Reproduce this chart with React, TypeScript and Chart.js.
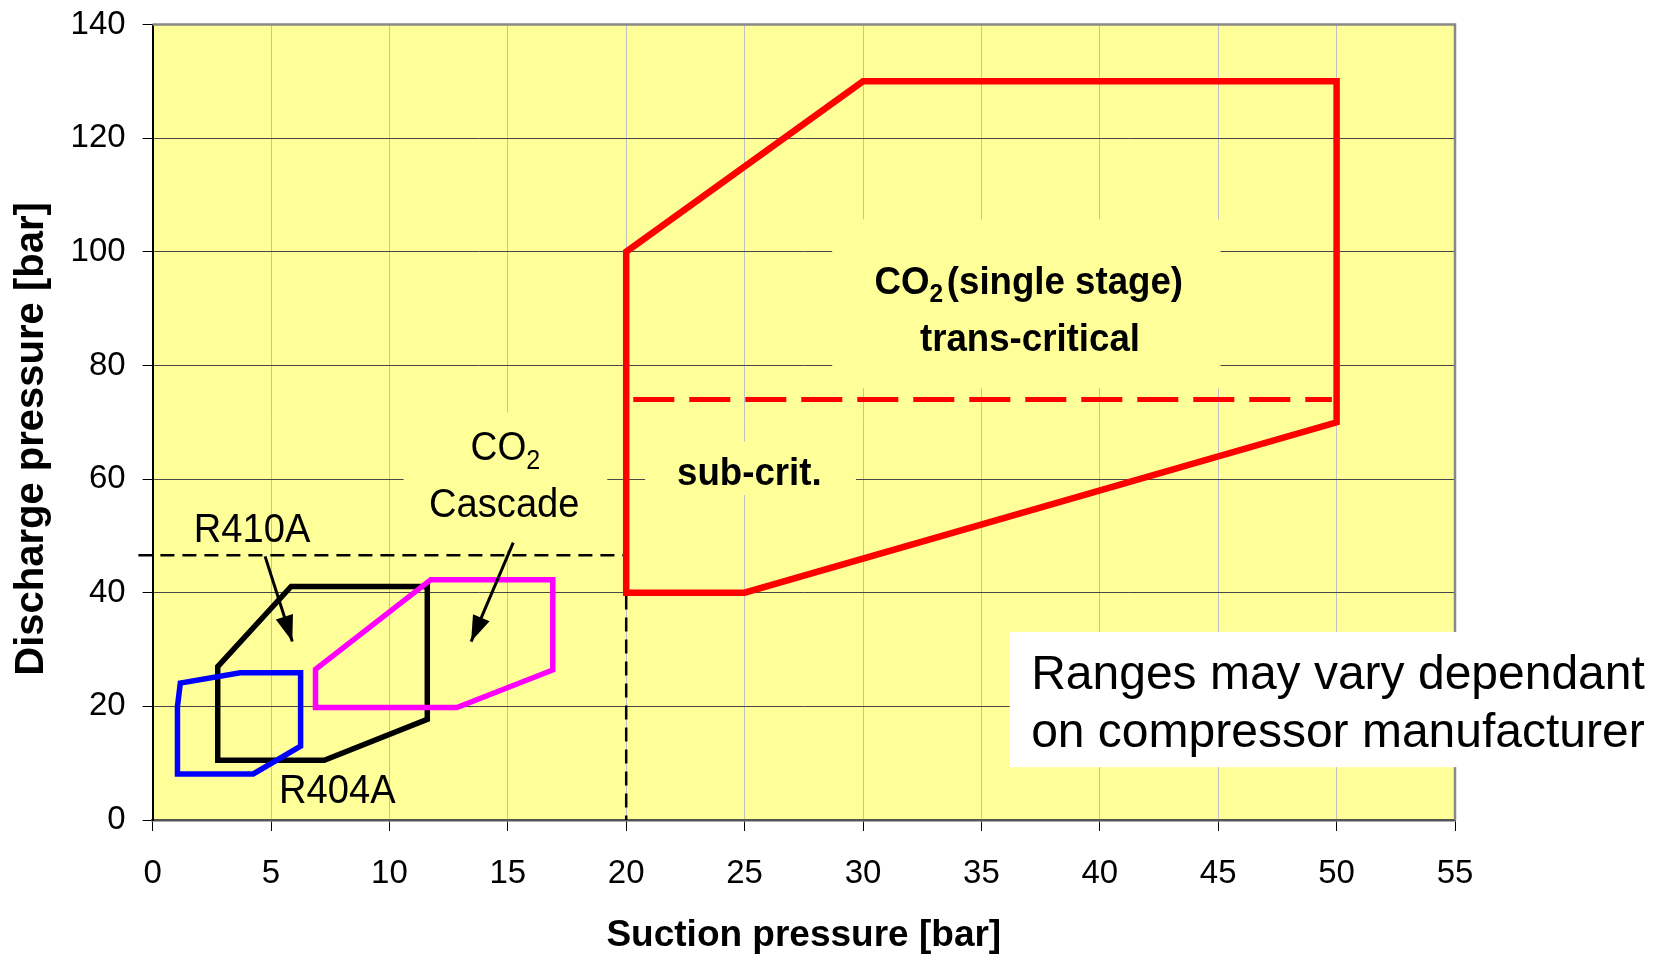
import React, { useEffect, useRef } from "react";
import { Chart, registerables } from "chart.js";

Chart.register(...registerables);

// ---------- data ----------
const X_TICKS = [0, 5, 10, 15, 20, 25, 30, 35, 40, 45, 50, 55];
const Y_TICKS = [0, 20, 40, 60, 80, 100, 120, 140];
const X_TITLE = "Suction pressure [bar]";
const Y_TITLE = "Discharge pressure [bar]   ";

// CO2 single stage envelope (sub + trans-critical)
const CO2_SINGLE_X = [20, 20, 30, 50, 50, 25, 20];
const CO2_SINGLE_Y = [40, 100, 130, 130, 70, 40, 40];
// sub/trans-critical boundary
const CRIT_LINE_X = [20.3, 49.8];
const CRIT_LINE_Y = [74, 74];
// R410A envelope
const R410A_X = [11.6, 11.6, 7.25, 2.75, 2.75, 5.85, 11.6];
const R410A_Y = [41.1, 17.7, 10.5, 10.5, 27.0, 41.1, 41.1];
// R404A envelope
const R404A_X = [6.25, 6.25, 4.25, 1.05, 1.05, 1.17, 3.7, 6.25];
const R404A_Y = [25.9, 13.0, 8.1, 8.1, 20.0, 24.1, 25.9, 25.9];
// CO2 cascade envelope
const CASCADE_X = [16.9, 16.9, 12.85, 6.88, 6.88, 11.75, 16.9];
const CASCADE_Y = [42.3, 26.4, 19.8, 19.8, 26.5, 42.3, 42.3];
// dashed guide lines
const GUIDE_X = [-0.6, 20, 20];
const GUIDE_Y = [46.6, 46.6, 0];
// arrows
const ARROW_R410A_X = [4.75, 5.9];
const ARROW_R410A_Y = [46.4, 31.4];
const ARROW_CASCADE_X = [15.23, 13.45];
const ARROW_CASCADE_Y = [48.8, 31.4];

const NOTE_LINES = ["Ranges may vary dependant", "on compressor manufacturer"];

// ---------- styling / placement ----------
const FONT = "'Liberation Sans', Arial, Helvetica, sans-serif";
const PLOT_BG = "#FFFF99";

const zip = (xs: number[], ys: number[]) => xs.map((x, i) => ({ x, y: ys[i] }));

// yellow masks that interrupt the grid behind text labels (data coords)
const MASKS = [
  { x0: 10.6, x1: 19.2, y0: 47.5, y1: 71.7 },
  { x0: 28.7, x1: 45.1, y0: 76, y1: 105.7 },
  { x0: 20.8, x1: 29.7, y0: 57.2, y1: 66.6 },
];

type Part = { t: string; size: number; bold?: boolean; dy?: number; gap?: number };

function drawRich(ctx: CanvasRenderingContext2D, parts: Part[], cx: number, by: number, sx = 1) {
  let total = 0;
  const widths = parts.map((p) => {
    ctx.font = `${p.bold ? "bold " : ""}${p.size}px ${FONT}`;
    const w = ctx.measureText(p.t).width + (p.gap || 0);
    total += w;
    return w;
  });
  ctx.save();
  ctx.translate(cx, by);
  ctx.scale(sx, 1);
  let x = -total / 2;
  ctx.textAlign = "left";
  ctx.textBaseline = "alphabetic";
  ctx.fillStyle = "#000";
  parts.forEach((p, i) => {
    ctx.font = `${p.bold ? "bold " : ""}${p.size}px ${FONT}`;
    ctx.fillText(p.t, x, p.dy || 0);
    x += widths[i];
  });
  ctx.restore();
}

const decorPlugin = {
  id: "decor",
  beforeDraw(chart: any) {
    const { ctx, chartArea: a } = chart;
    ctx.save();
    ctx.fillStyle = "#ffffff";
    ctx.fillRect(0, 0, chart.width, chart.height);
    ctx.fillStyle = PLOT_BG;
    ctx.fillRect(a.left, a.top, a.right - a.left, a.bottom - a.top);
    ctx.restore();
  },
  beforeDatasetsDraw(chart: any) {
    const { ctx, chartArea: a, scales } = chart;
    const sx = scales.x, sy = scales.y;
    ctx.save();
    ctx.fillStyle = PLOT_BG;
    MASKS.forEach((m) => {
      const x0 = sx.getPixelForValue(m.x0), x1 = sx.getPixelForValue(m.x1);
      const y0 = sy.getPixelForValue(m.y1), y1 = sy.getPixelForValue(m.y0);
      ctx.fillRect(x0, y0, x1 - x0, y1 - y0);
    });
    // top & right frame
    ctx.strokeStyle = "#888888";
    ctx.lineWidth = 2.5;
    ctx.beginPath();
    ctx.moveTo(a.left, a.top);
    ctx.lineTo(a.right, a.top);
    ctx.lineTo(a.right, a.bottom);
    ctx.stroke();
    ctx.restore();
  },
  afterDatasetsDraw(chart: any) {
    const { ctx, scales } = chart;
    const sx = scales.x, sy = scales.y;
    ctx.save();
    // arrow heads
    chart.data.datasets.forEach((ds: any, i: number) => {
      if (!ds.arrowHead) return;
      const pts = chart.getDatasetMeta(i).data;
      const p1 = pts[pts.length - 2], p2 = pts[pts.length - 1];
      const ang = Math.atan2(p2.y - p1.y, p2.x - p1.x);
      const L = 26, W = 9;
      ctx.fillStyle = "#000";
      ctx.beginPath();
      ctx.moveTo(p2.x, p2.y);
      ctx.lineTo(p2.x - L * Math.cos(ang) + W * Math.sin(ang), p2.y - L * Math.sin(ang) - W * Math.cos(ang));
      ctx.lineTo(p2.x - L * Math.cos(ang) - W * Math.sin(ang), p2.y - L * Math.sin(ang) + W * Math.cos(ang));
      ctx.closePath();
      ctx.fill();
    });

    // note box
    const nx0 = sx.getPixelForValue(36.2);
    const ny0 = sy.getPixelForValue(33.1);
    const ny1 = sy.getPixelForValue(9.3);
    ctx.fillStyle = "#ffffff";
    ctx.fillRect(nx0, ny0, chart.width - nx0, ny1 - ny0);
    ctx.fillStyle = "#000";
    ctx.font = `48px ${FONT}`;
    ctx.textAlign = "left";
    ctx.textBaseline = "alphabetic";
    const tx = sx.getPixelForValue(37.1);
    ctx.fillText(NOTE_LINES[0], tx, sy.getPixelForValue(23.0));
    ctx.fillText(NOTE_LINES[1], tx, sy.getPixelForValue(12.8));

    // labels
    const P = (x: number, y: number) => [sx.getPixelForValue(x), sy.getPixelForValue(y)];
    const C = 0.93;
    let [cx, cy] = P(4.2, 48.9);
    drawRich(ctx, [{ t: "R410A", size: 41 }], cx, cy, C);
    [cx, cy] = P(7.8, 3.0);
    drawRich(ctx, [{ t: "R404A", size: 41 }], cx, cy, C);
    [cx, cy] = P(14.9, 63.4);
    drawRich(ctx, [{ t: "CO", size: 40 }, { t: "2", size: 27, dy: 9 }], cx, cy, C);
    [cx, cy] = P(14.85, 53.4);
    drawRich(ctx, [{ t: "Cascade", size: 41 }], cx, cy, C);
    [cx, cy] = P(37.0, 92.5);
    drawRich(ctx, [
      { t: "CO", size: 39, bold: true },
      { t: "2", size: 26, bold: true, dy: 8, gap: 4 },
      { t: "(single stage)", size: 39, bold: true },
    ], cx, cy, 0.94);
    [cx, cy] = P(37.05, 82.5);
    drawRich(ctx, [{ t: "trans-critical", size: 39, bold: true }], cx, cy, 0.94);
    [cx, cy] = P(25.2, 59.0);
    drawRich(ctx, [{ t: "sub-crit.", size: 39, bold: true }], cx, cy, 0.94);
    ctx.restore();
  },
};

const line = (data: any[], color: string, width: number, extra: any = {}) => ({
  type: "scatter",
  data,
  showLine: true,
  borderColor: color,
  backgroundColor: color,
  borderWidth: width,
  pointRadius: 0,
  pointHoverRadius: 0,
  fill: false,
  tension: 0,
  borderJoinStyle: "miter",
  borderCapStyle: "square",
  ...extra,
});

export default function App() {
  const ref = useRef<HTMLCanvasElement | null>(null);
  useEffect(() => {
    if (!ref.current) return;
    const chart = new Chart(ref.current, {
      type: "scatter",
      data: {
        datasets: [
          line(zip(ARROW_R410A_X, ARROW_R410A_Y), "#000", 3, { arrowHead: true, borderCapStyle: "butt" }),
          line(zip(ARROW_CASCADE_X, ARROW_CASCADE_Y), "#000", 3, { arrowHead: true, borderCapStyle: "butt" }),
          line(zip(CASCADE_X, CASCADE_Y), "#FF00FF", 5.5),
          line(zip(R404A_X, R404A_Y), "#0000FF", 5.5),
          line(zip(R410A_X, R410A_Y), "#000000", 5.5),
          line(zip(CO2_SINGLE_X, CO2_SINGLE_Y), "#FF0000", 6.5),
          line(zip(CRIT_LINE_X, CRIT_LINE_Y), "#FF0000", 5, { borderDash: [41, 15], borderCapStyle: "butt" }),
          line(zip(GUIDE_X, GUIDE_Y), "#000000", 2.5, { borderDash: [14, 8], borderCapStyle: "butt", clip: false }),
        ] as any,
      },
      options: {
        responsive: false,
        animation: false,
        devicePixelRatio: 1,
        events: [],
        layout: { padding: { left: 0, top: 24.5, right: 207, bottom: 0 } },
        plugins: { legend: { display: false }, tooltip: { enabled: false } },
        scales: {
          x: {
            type: "linear",
            min: 0,
            max: 55,
            afterBuildTicks: (s: any) => { s.ticks = X_TICKS.map((v) => ({ value: v })); },
            afterFit: (s: any) => { s.height = 139; },
            grid: { color: "#c0c0c0", lineWidth: 1, tickLength: 11, tickColor: "#000" },
            border: { color: "#555555", width: 2.5 },
            ticks: { font: { family: FONT, size: 33 }, color: "#000", padding: 23, maxRotation: 0, autoSkip: false },
            title: { display: true, text: X_TITLE, color: "#000", font: { family: FONT, size: 37, weight: "bold" }, padding: { top: 0, bottom: 1 } },
          },
          y: {
            type: "linear",
            min: 0,
            max: 140,
            afterBuildTicks: (s: any) => { s.ticks = Y_TICKS.map((v) => ({ value: v })); },
            afterFit: (s: any) => { s.width = 152.6; s.paddingTop = 0; s.paddingBottom = 0; },
            grid: { color: "#484848", lineWidth: 1, tickLength: 10, tickColor: "#000" },
            border: { color: "#000", width: 2 },
            ticks: { font: { family: FONT, size: 33 }, color: "#000", padding: 17 },
            title: { display: true, text: Y_TITLE, color: "#000", font: { family: FONT, size: 40, weight: "bold" }, padding: { top: 8, bottom: 0 } },
          },
        },
      } as any,
      plugins: [decorPlugin as any],
    });
    return () => chart.destroy();
  }, []);

  return (
    <div style={{ position: "fixed", left: 0, top: 0, width: 1662, height: 959, background: "#fff", overflow: "hidden" }}>
      <canvas ref={ref} width={1662} height={959} style={{ display: "block", width: 1662, height: 959 }} />
    </div>
  );
}
